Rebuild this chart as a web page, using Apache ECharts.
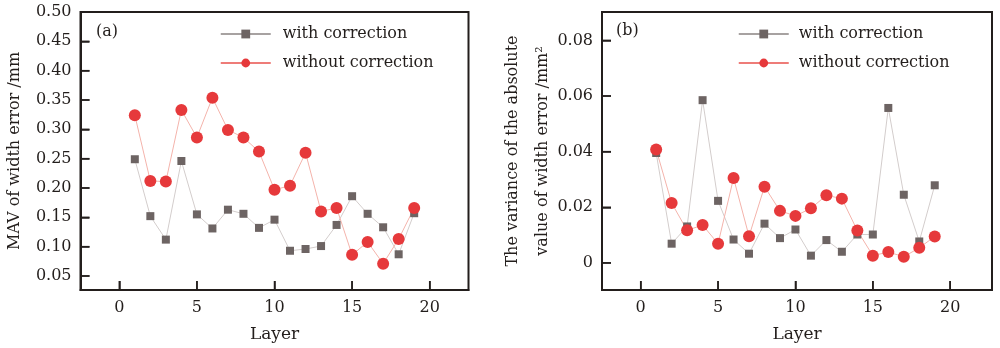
<!DOCTYPE html>
<html>
<head>
<meta charset="utf-8">
<script src="https://cdn.jsdelivr.net/npm/echarts@6/dist/echarts.min.js"></script>
<style>
  html, body { margin: 0; padding: 0; background: #fff; }
  #chart { width: 1000px; height: 348px; }
</style>
</head>
<body>
<div id="chart"></div>
<script>
// layers 1..19
var layers = [1, 2, 3, 4, 5, 6, 7, 8, 9, 10, 11, 12, 13, 14, 15, 16, 17, 18, 19];

// (a) MAV of width error /mm
var mavWith = [0.249, 0.152, 0.112, 0.246, 0.155, 0.131, 0.163, 0.156, 0.132, 0.146,
               0.093, 0.096, 0.101, 0.137, 0.186, 0.156, 0.133, 0.087, 0.157];
var mavWithout = [0.324, 0.212, 0.211, 0.333, 0.286, 0.354, 0.299, 0.286, 0.262, 0.197,
                  0.204, 0.260, 0.160, 0.166, 0.086, 0.108, 0.071, 0.113, 0.166];

// (b) variance of the absolute value of width error /mm2
var varWith = [0.0395, 0.0069, 0.0131, 0.0585, 0.0223, 0.0084, 0.0033, 0.0141, 0.0089, 0.0120,
               0.0026, 0.0082, 0.0040, 0.0102, 0.0102, 0.0557, 0.0245, 0.0077, 0.0279];
var varWithout = [0.0408, 0.0215, 0.0117, 0.0136, 0.0069, 0.0305, 0.0096, 0.0274, 0.0187, 0.0169,
                  0.0196, 0.0243, 0.0231, 0.0116, 0.0026, 0.0039, 0.0022, 0.0054, 0.0095];

var xTicks = [0, 5, 10, 15, 20];
var yTicksA = [0.05, 0.10, 0.15, 0.20, 0.25, 0.30, 0.35, 0.40, 0.45, 0.50];
var yTicksB = [0, 0.02, 0.04, 0.06, 0.08];

// axis ranges
var X_MIN = -2.5;
var YA_MIN = 0.0261, YA_MAX = 0.5;
var YB_MIN = -0.00975, YB_MAX = 0.0902;

var FONT = 'DejaVu Serif';
var INK = '#231e1c';
var GRAY = '#6d6463';
var RED = '#e6393b';
var TICK_LEN = 9;

function pairs(vals) {
  return layers.map(function (l, i) { return [l, vals[i]]; });
}

var chart = echarts.init(document.getElementById('chart'));

function xAxisCfg(gridIndex, max) {
  return {
    gridIndex: gridIndex, type: 'value', min: X_MIN, max: max,
    name: 'Layer', nameLocation: 'middle', nameGap: 36, nameMoveOverlap: false,
    nameTextStyle: { fontFamily: FONT, fontSize: 17, color: INK },
    axisLine: { show: true, onZero: false, lineStyle: { color: INK, width: 2 } },
    axisTick: { show: true, inside: true, length: TICK_LEN, customValues: xTicks,
                lineStyle: { color: INK, width: 1.5 } },
    axisLabel: { customValues: xTicks, margin: 10, fontFamily: FONT, fontSize: 16, color: INK },
    splitLine: { show: false }
  };
}

function yAxisCfg(gridIndex, min, max, ticks, fmt, name, nameGap, lh) {
  return {
    gridIndex: gridIndex, type: 'value', min: min, max: max,
    name: name, nameLocation: 'middle', nameGap: nameGap, nameMoveOverlap: false,
    nameTextStyle: { fontFamily: FONT, fontSize: 16, color: INK, lineHeight: lh },
    axisLine: { show: true, onZero: false, lineStyle: { color: INK, width: 2 } },
    axisTick: { show: true, inside: true, length: TICK_LEN, customValues: ticks,
                lineStyle: { color: INK, width: 1.5 } },
    axisLabel: { customValues: ticks, margin: 9, formatter: fmt, fontFamily: FONT, fontSize: 16, color: INK },
    splitLine: { show: false }
  };
}

function lineSeries(name, vals, xi, sym, size, color, lineColor) {
  return {
    name: name, type: 'line', xAxisIndex: xi, yAxisIndex: xi,
    data: pairs(vals), symbol: sym, symbolSize: size,
    itemStyle: { color: color },
    lineStyle: { color: lineColor, width: 1 },
    z: 3
  };
}

// inward tick marks drawn at the frame edges, positioned through the axis scales
function tickSeries(xi, dir) {
  var data = dir === 'x'
    ? xTicks.map(function (v) { return [v, xi === 0 ? YA_MIN : YB_MIN]; })
    : (xi === 0 ? yTicksA : yTicksB).map(function (v) { return [X_MIN, v]; });
  return {
    type: 'custom', xAxisIndex: xi, yAxisIndex: xi, silent: true, clip: false, z: 4,
    data: data,
    renderItem: function (params, api) {
      var p = api.coord([api.value(0), api.value(1)]);
      var shape = dir === 'x'
        ? { x1: p[0], y1: p[1], x2: p[0], y2: p[1] - TICK_LEN }
        : { x1: p[0], y1: p[1], x2: p[0] + TICK_LEN, y2: p[1] };
      return { type: 'line', shape: shape, style: { stroke: INK, lineWidth: 1.5 } };
    }
  };
}

function legendCfg(left, gap) {
  return {
    left: left, top: 25, orient: 'vertical', padding: 0,
    itemWidth: 50, itemHeight: 11, itemGap: 11,
    textStyle: { fontFamily: FONT, fontSize: 16, color: INK, lineHeight: 18, padding: [0, 0, 0, gap] },
    data: [
      { name: 'with correction', lineStyle: { color: '#8a8382', width: 1.5 } },
      { name: 'without correction', lineStyle: { color: '#e8514b', width: 1.5 } }
    ]
  };
}

var titleStyle = { fontFamily: FONT, fontSize: 16, fontWeight: 'normal', color: INK };

var option = {
  animation: false,
  title: [
    { text: '(a)', left: 96, top: 24, padding: 0, textStyle: titleStyle },
    { text: '(b)', left: 616, top: 23, padding: 0, textStyle: titleStyle }
  ],
  grid: [
    { left: 80.5, top: 12, width: 388, height: 284, show: true, borderColor: INK, borderWidth: 2 },
    { left: 602, top: 12, width: 390, height: 284, show: true, borderColor: INK, borderWidth: 2 }
  ],
  legend: [legendCfg(220, 7), legendCfg(738, 5)],
  xAxis: [xAxisCfg(0, 22.5), xAxisCfg(1, 22.7)],
  yAxis: [
    yAxisCfg(0, YA_MIN, YA_MAX, yTicksA, function (v) { return v.toFixed(2); },
             'MAV of width error /mm', 58, 16),
    yAxisCfg(1, YB_MIN, YB_MAX, yTicksB, function (v) { return v === 0 ? '0' : v.toFixed(2); },
             'The variance of the absolute\nvalue of width error /mm²', 44, 30)
  ],
  series: [
    lineSeries('with correction', mavWith, 0, 'rect', 8, GRAY, '#d3cdcc'),
    lineSeries('without correction', mavWithout, 0, 'circle', 12, RED, '#f4b3ab'),
    lineSeries('with correction', varWith, 1, 'rect', 8, GRAY, '#d3cdcc'),
    lineSeries('without correction', varWithout, 1, 'circle', 12, RED, '#f4b3ab'),
    tickSeries(0, 'x'), tickSeries(0, 'y'),
    tickSeries(1, 'x'), tickSeries(1, 'y')
  ]
};

chart.setOption(option);
</script>
</body>
</html>
